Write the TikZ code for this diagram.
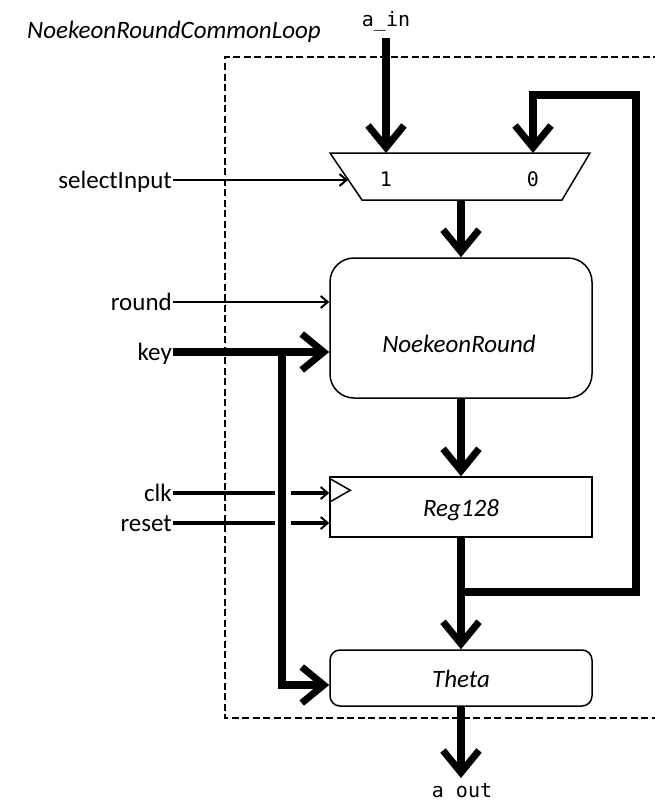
\documentclass[tikz,border=0pt]{standalone}
\usepackage{fontspec}
\setmainfont{Carlito}
\newfontfamily\portfont{DejaVu Sans Mono}
\usetikzlibrary{arrows.meta}
\tikzset{
  bus/.style={line width=7.5pt},
  bigtip/.tip={Straight Barb[length=22pt,width=36pt,line width=7pt]},
  smalltip/.tip={Straight Barb[length=7pt,width=12pt,line width=2pt]},
  busarrow/.style={bus,-bigtip},
  sigarrow/.style={line width=2pt,-smalltip},
  ctlline/.style={line width=3.2pt},
  ctlarrow/.style={ctlline,-smalltip},
  outline/.style={draw,line width=1.5pt,fill=white},
  block/.style={outline,inner sep=0pt,minimum width=262pt},
  sig/.style={font=\fontsize{25}{28}\selectfont,anchor=base east,inner sep=1pt},
  port/.style={font=\portfont\fontsize{20}{22}\selectfont,inner sep=1pt,anchor=base},
  blk/.style={font=\itshape\fontsize{25}{28}\selectfont,anchor=base}
}
\begin{document}
\begin{tikzpicture}[x=1pt,y=-1pt]
\useasboundingbox (0,0) rectangle (655,808);
% title and enclosing frame
\node[font=\itshape\fontsize{25}{28}\selectfont,anchor=base west,inner sep=0pt] (title) at (27,38) {NoekeonRoundCommonLoop};
\draw[line width=1.6pt,dash pattern=on 7pt off 3.5pt] (660,57) -- (225,57) -- (225,718) -- (660,718);
% multiplexer (inverted trapezium)
\coordinate (muxtl) at (330,153);
\coordinate (muxtr) at (590,153);
\coordinate (muxbr) at (562,200);
\coordinate (muxbl) at (362,200);
\path[outline] (muxtl) -- (muxtr) -- (muxbr) -- (muxbl) -- cycle;
\coordinate (mux1) at (386,153);
\coordinate (mux0) at (533,153);
\coordinate (muxsel) at (348,180);
\coordinate (muxout) at (461,200);
\node[port] (lab1) at (386,186) {1};
\node[port] (lab0) at (533,186) {0};
% blocks
\node[block,rounded corners=24pt,minimum height=140pt] (nr) at (461,328) {};
\node[blk] (nrtext) at (459,352) {NoekeonRound};
\node[block,minimum height=60pt] (reg) at (461,507) {};
\node[blk] (regtext) at (461,516) {Reg128};
\draw[line width=1.5pt] (reg.north west) ++(0,2) -- ++(21,12) -- ++(-21,12);
\node[block,rounded corners=10pt,minimum height=56pt] (theta) at (461,678) {};
\node[blk] (thetatext) at (461,687) {Theta};
% ports
\node[port] (ain) at (386,27) {a\_in};
\node[port] (aout) at (462,797) {a out};
\coordinate (ainstart) at (386,38);
\coordinate (aoutend) at (461,778);
\coordinate (split) at (461,592);
% input signals
\node[sig] (sel) at (173,188) {selectInput};
\node[sig] (rnd) at (173,310) {round};
\node[sig] (key) at (173,360) {key};
\node[sig] (clk) at (173,501) {clk};
\node[sig] (rst) at (173,531) {reset};
\coordinate (keysplit) at (282,352);
% datapath
\draw[busarrow] (ainstart) -- (mux1);
\draw[busarrow] (muxout) -- (nr.north);
\draw[busarrow] (nr.south) -- (reg.north);
\draw[busarrow] (reg.south) -- (theta.north);
\draw[busarrow] (theta.south) -- (aoutend);
\draw[bus,-bigtip] (split) -- (636,592) -- (636,95) -- (533,95) -- (mux0);
\draw[busarrow] (173,352) -- (nr.west |- 0,352);
\draw[bus,-bigtip] (keysplit) -- (282,685) -- (theta.west |- 0,685);
% control signals
\draw[sigarrow] (173,180) -- (muxsel);
\draw[sigarrow] (173,302) -- (nr.west |- 0,302);
\draw[ctlline] (173,493) -- (275,493);
\draw[ctlarrow] (291,493) -- (reg.west |- 0,493);
\draw[ctlline] (173,523) -- (275,523);
\draw[ctlarrow] (291,523) -- (reg.west |- 0,523);
\end{tikzpicture}
\end{document}
